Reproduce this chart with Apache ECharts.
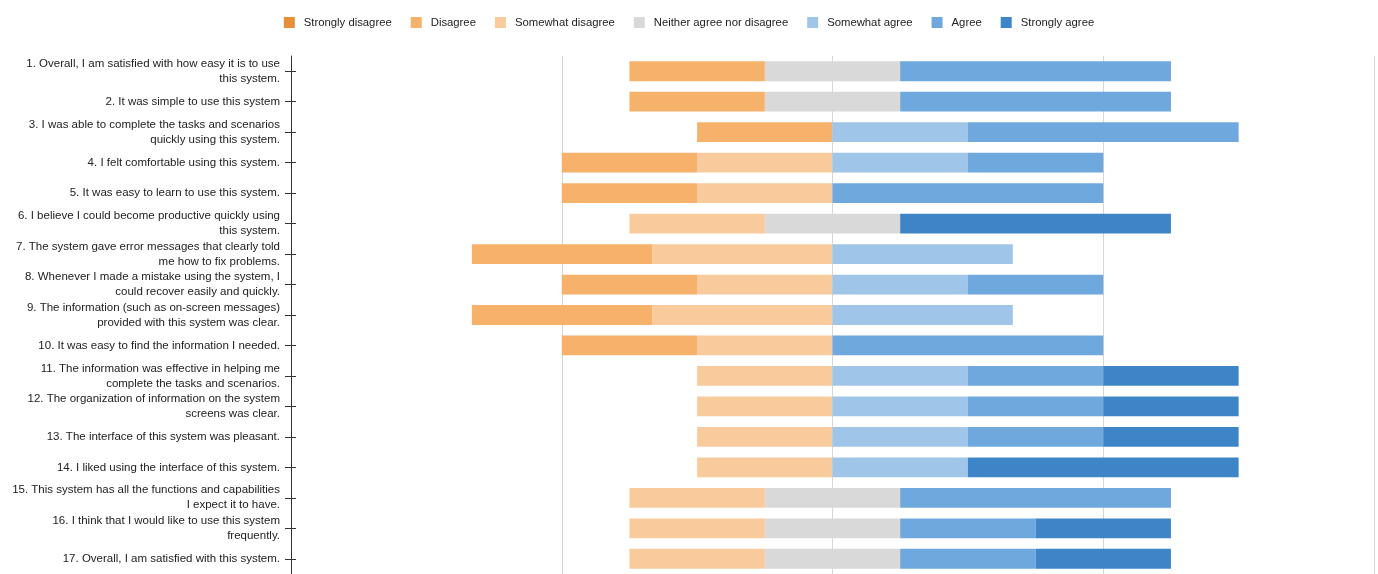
<!DOCTYPE html>
<html>
<head>
<meta charset="utf-8">
<script src="https://cdn.jsdelivr.net/npm/echarts@6/dist/echarts.min.js"></script>
<style>
html,body{margin:0;padding:0;background:#fff;}
#chart{width:1378px;height:574px;}
</style>
</head>
<body>
<div id="chart"></div>
<script>
const categories = [
  "1. Overall, I am satisfied with how easy it is to use\nthis system.",
  "2. It was simple to use this system",
  "3. I was able to complete the tasks and scenarios\nquickly using this system.",
  "4. I felt comfortable using this system.",
  "5. It was easy to learn to use this system.",
  "6. I believe I could become productive quickly using\nthis system.",
  "7. The system gave error messages that clearly told\nme how to fix problems.",
  "8. Whenever I made a mistake using the system, I\ncould recover easily and quickly.",
  "9. The information (such as on-screen messages)\nprovided with this system was clear.",
  "10. It was easy to find the information I needed.",
  "11. The information was effective in helping me\ncomplete the tasks and scenarios.",
  "12. The organization of information on the system\nscreens was clear.",
  "13. The interface of this system was pleasant.",
  "14. I liked using the interface of this system.",
  "15. This system has all the functions and capabilities\nI expect it to have.",
  "16. I think that I would like to use this system\nfrequently.",
  "17. Overall, I am satisfied with this system."
];
const seriesNames = ["Strongly disagree","Disagree","Somewhat disagree","Neither agree nor disagree","Somewhat agree","Agree","Strongly agree"];
const stronglyDisagree = [0,0,0,0,0,0,0,0,0,0,0,0,0,0,0,0,0];
const disagree         = [25,25,25,25,25,0,33.3,25,33.3,25,0,0,0,0,0,0,0];
const somewhatDisagree = [0,0,0,25,25,25,33.3,25,33.3,25,25,25,25,25,25,25,25];
const neither          = [25,25,0,0,0,25,0,0,0,0,0,0,0,0,25,25,25];
const somewhatAgree    = [0,0,25,25,0,0,33.3,25,33.3,0,25,25,25,25,0,0,0];
const agree            = [50,50,50,25,50,0,0,25,0,50,25,25,25,0,50,25,25];
const stronglyAgree    = [0,0,0,0,0,50,0,0,0,0,25,25,25,50,0,25,25];
const colors = ["#E69138","#F6B26B","#F9CB9C","#D9D9D9","#9FC5E8","#6FA8DC","#3D85C6"];

const neg = a => a.map(v => -v);
const half = (a, s) => a.map(v => s * v / 2);

function bar(name, data, color) {
  return {
    name: name, type: 'bar', stack: 'total', data: data,
    barCategoryGap: '35%',
    itemStyle: { color: color },
    emphasis: { disabled: true },
    yAxisIndex: 0
  };
}

const series = [
  bar(seriesNames[3], half(neither, -1), colors[3]),
  bar(seriesNames[3], half(neither, 1), colors[3]),
  bar(seriesNames[2], neg(somewhatDisagree), colors[2]),
  bar(seriesNames[1], neg(disagree), colors[1]),
  bar(seriesNames[0], neg(stronglyDisagree), colors[0]),
  bar(seriesNames[4], somewhatAgree, colors[4]),
  bar(seriesNames[5], agree, colors[5]),
  bar(seriesNames[6], stronglyAgree, colors[6])
];

const font = 'Liberation Sans, Arial, sans-serif';
const chart = echarts.init(document.getElementById('chart'));
chart.setOption({
  animation: false,
  color: colors,
  legend: {
    data: seriesNames,
    top: 12,
    left: 'center',
    itemWidth: 11,
    itemHeight: 11,
    itemGap: 19,
    icon: 'rect',
    textStyle: { fontFamily: font, fontSize: 11.3, color: '#222', padding: [0,0,0,4] }
  },
  grid: { left: 291, right: 4, top: 56, height: 519 },
  xAxis: {
    type: 'value', min: -100, max: 100, interval: 50,
    axisLabel: { show: false },
    axisLine: { show: false },
    axisTick: { show: false },
    splitLine: { show: true, lineStyle: { color: '#d6d6d6', width: 1 } }
  },
  yAxis: [{
    type: 'category', data: categories, inverse: true, position: 'left',
    axisLine: { show: true, onZero: false, lineStyle: { color: '#333' } },
    axisTick: { show: true, alignWithLabel: true, length: 6, lineStyle: { color: '#333' } },
    axisLabel: { fontFamily: font, fontSize: 11.5, color: '#222', margin: 11, lineHeight: 15, align: 'right' },
    splitLine: { show: false }
  }, {
    type: 'category', data: categories, inverse: true, position: 'left',
    axisLine: { show: false, onZero: false },
    axisTick: { show: true, alignWithLabel: true, inside: true, length: 5, lineStyle: { color: '#333' } },
    axisLabel: { show: false },
    splitLine: { show: false }
  }],
  series: series
});
</script>
</body>
</html>
